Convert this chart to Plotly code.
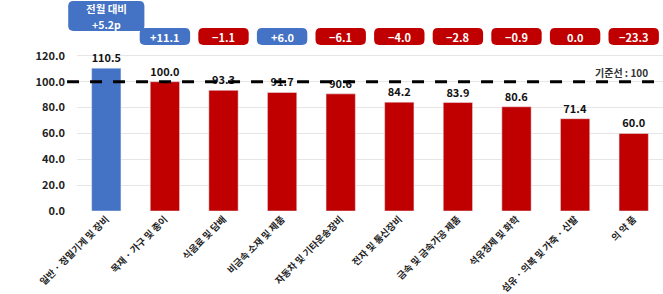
import plotly.graph_objects as go

categories = ["일반 · 정밀기계 및 장비", "목재 · 가구 및 종이", "식음료 및 담배", "비금속 소재 및 제품",
              "자동차 및 기타운송장비", "전자 및 통신장비", "금속 및 금속가공 제품", "석유정제 및 화학",
              "섬유 · 의복 및 가죽 · 신발", "의 약 품"]
values = [110.5, 100.0, 93.3, 91.7, 90.6, 84.2, 83.9, 80.6, 71.4, 60.0]
changes = [5.2, 11.1, -1.1, 6.0, -6.1, -4.0, -2.8, -0.9, 0.0, -23.3]
y_ticks = [0, 20, 40, 60, 80, 100, 120]
baseline = 100

BLUE = "#4472C4"
RED = "#C00000"
FONT = "Noto Sans CJK KR"

n = len(categories)
x = list(range(n))
bar_colors = [BLUE] + [RED] * (n - 1)

fig = go.Figure()
fig.add_trace(go.Bar(
    x=x, y=values, marker_color=bar_colors, width=0.5,
    text=[f"{v:.1f}" for v in values], textposition="outside",
    textfont=dict(family=FONT, size=11, color="#111111", weight="bold"),
    cliponaxis=False, hoverinfo="skip",
))

YMAX = 163.2


def rounded(x0, x1, y0, y1, rx, ry):
    return (f"M {x0+rx},{y0} L {x1-rx},{y0} Q {x1},{y0} {x1},{y0+ry} "
            f"L {x1},{y1-ry} Q {x1},{y1} {x1-rx},{y1} L {x0+rx},{y1} "
            f"Q {x0},{y1} {x0},{y1-ry} L {x0},{y0+ry} Q {x0},{y0} {x0+rx},{y0} Z")


shapes = []
annotations = []
rx, ry = 0.009, 4.0


def add_text(cx, cy, txt, size=11):
    annotations.append(dict(xref="paper", yref="y", x=cx, y=cy,
                            xanchor="center", yanchor="middle",
                            text=txt, showarrow=False,
                            font=dict(family=FONT, size=size, color="white"),
                            align="center"))


for i, c in enumerate(changes):
    cx = (i + 0.5) / n
    col = BLUE if c > 0 else RED
    if i == 0:
        w = 0.13
        y0, y1 = 139.2, 162.4
    else:
        w = 0.086
        y0, y1 = 128.4, 141.5
    shapes.append(dict(type="path", xref="paper", yref="y",
                       path=rounded(cx - w / 2, cx + w / 2, y0, y1, rx, ry),
                       fillcolor=col, line=dict(width=0)))
    if i == 0:
        add_text(cx, 156.6, "<b>전월 대비</b>", 10.5)
        add_text(cx, 144.6, f"<b>{c:+.1f}p</b>", 10.5)
    else:
        txt = "<b>0.0</b>" if c == 0 else f"<b>{c:+.1f}</b>".replace("-", "−")
        add_text(cx, (y0 + y1) / 2, txt)

shapes.append(dict(type="line", xref="paper", yref="y", x0=-0.017, x1=1.0,
                   y0=baseline, y1=baseline,
                   line=dict(color="black", width=3, dash="12px,11px")))
annotations.append(dict(xref="paper", yref="y", x=0.978, y=107.5, xanchor="right",
                        yanchor="middle",
                        text="<b>기준선 : 100</b>", showarrow=False,
                        font=dict(family=FONT, size=10, color="#333333")))

fig.update_layout(
    width=663, height=294,
    margin=dict(l=77, r=0, t=0, b=83),
    paper_bgcolor="white", plot_bgcolor="white",
    showlegend=False, bargap=0.5,
    shapes=shapes, annotations=annotations,
    xaxis=dict(range=[-0.5, n - 0.5], tickvals=x, ticktext=categories, tickangle=-45,
               tickfont=dict(family=FONT, size=9.5, color="#222222", weight="bold"),
               showgrid=False, zeroline=False, showline=False, fixedrange=True,
               automargin=False),
    yaxis=dict(range=[0, YMAX], tickvals=y_ticks, ticktext=[f"{v:.1f}" for v in y_ticks],
               tickfont=dict(family=FONT, size=11, color="#222222", weight="bold"),
               showgrid=True, gridcolor="#e6e6e6", gridwidth=1, zeroline=False,
               ticklabelstandoff=11, fixedrange=True, automargin=False),
)

fig.write_html("out.html")
